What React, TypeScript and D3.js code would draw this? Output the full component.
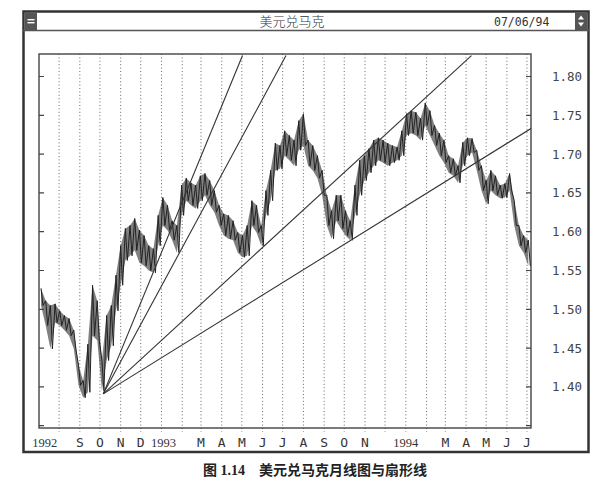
import React, { useEffect, useRef } from 'react'
import * as d3 from 'd3'

// weekly high / low, first week starts 1992-07-05
const weekHigh = [
    1.527, 1.511, 1.505, 1.507, 1.498, 1.492, 1.488, 1.473, 1.428, 1.408,
    1.455, 1.531, 1.511, 1.434, 1.492, 1.505, 1.544, 1.582, 1.604, 1.608,
    1.617, 1.602, 1.595, 1.582, 1.578, 1.621, 1.644, 1.634, 1.614, 1.608,
    1.66, 1.669, 1.663, 1.66, 1.672, 1.675, 1.666, 1.653, 1.634, 1.623,
    1.621, 1.614, 1.599, 1.595, 1.608, 1.64, 1.634, 1.608, 1.653, 1.679,
    1.714, 1.711, 1.73, 1.724, 1.718, 1.743, 1.752, 1.718, 1.711, 1.698,
    1.679, 1.647, 1.627, 1.647, 1.647, 1.627, 1.614, 1.66, 1.692, 1.698,
    1.707, 1.718, 1.721, 1.718, 1.714, 1.711, 1.709, 1.73, 1.752, 1.756,
    1.754, 1.746, 1.766, 1.756, 1.737, 1.727, 1.718, 1.698, 1.694, 1.685,
    1.715, 1.721, 1.72, 1.705, 1.685, 1.666, 1.679, 1.672, 1.66, 1.662,
    1.675, 1.64, 1.608, 1.595, 1.589,
]
const weekLow = [
    1.505, 1.479, 1.449, 1.483, 1.479, 1.473, 1.466, 1.449, 1.402, 1.386,
    1.393, 1.466, 1.46, 1.395, 1.434, 1.453, 1.498, 1.531, 1.563, 1.569,
    1.576, 1.56, 1.556, 1.55, 1.547, 1.582, 1.608, 1.602, 1.589, 1.573,
    1.621, 1.64, 1.634, 1.63, 1.64, 1.647, 1.634, 1.625, 1.608, 1.595,
    1.591, 1.589, 1.573, 1.567, 1.569, 1.608, 1.599, 1.582, 1.621, 1.64,
    1.679, 1.681, 1.698, 1.692, 1.685, 1.705, 1.711, 1.685, 1.679, 1.669,
    1.647, 1.608, 1.591, 1.614, 1.604, 1.595, 1.589, 1.621, 1.647, 1.666,
    1.676, 1.685, 1.692, 1.689, 1.685, 1.689, 1.692, 1.698, 1.724, 1.727,
    1.724, 1.718, 1.737, 1.724, 1.711, 1.698, 1.689, 1.676, 1.672, 1.663,
    1.685, 1.698, 1.702, 1.679, 1.653, 1.636, 1.653, 1.647, 1.643, 1.644,
    1.653, 1.608, 1.582, 1.573, 1.556,
]

const yTicks = [1.35, 1.4, 1.45, 1.5, 1.55, 1.6, 1.65, 1.7, 1.75, 1.8]
const yLabels = ['1.40', '1.45', '1.50', '1.55', '1.60', '1.65', '1.70', '1.75', '1.80']

const monthLines = [
    '1992-08-01', '1992-09-01', '1992-10-01', '1992-11-01', '1992-12-01',
    '1993-01-01', '1993-02-01', '1993-03-01', '1993-04-01', '1993-05-01',
    '1993-06-01', '1993-07-01', '1993-08-01', '1993-09-01', '1993-10-01',
    '1993-11-01', '1993-12-01', '1994-01-01', '1994-02-01', '1994-03-01',
    '1994-04-01', '1994-05-01', '1994-06-01', '1994-07-01',
]
const xLabelDates = [
    '1992-07-01', '1992-09-01', '1992-10-01', '1992-11-01', '1992-12-01',
    '1993-01-01', '1993-03-01', '1993-04-01', '1993-05-01', '1993-06-01',
    '1993-07-01', '1993-08-01', '1993-09-01', '1993-10-01', '1993-11-01',
    '1994-01-01', '1994-03-01', '1994-04-01', '1994-05-01', '1994-06-01',
    '1994-07-01',
]
const xLabelTexts = [
    '1992', 'S', 'O', 'N', 'D', '1993', 'M', 'A', 'M', 'J', 'J', 'A', 'S',
    'O', 'N', '1994', 'M', 'A', 'M', 'J', 'J',
]

// fan lines from the October 1992 low
const fanOriginDate = '1992-10-06'
const fanOriginValue = 1.391
const fanEndDates = ['1993-05-02', '1993-07-06', '1994-04-09', '1994-07-07']
const fanEndValues = [1.827, 1.827, 1.827, 1.733]

function App() {
    const svgRef = useRef<SVGSVGElement | null>(null)

    useEffect(() => {
        if (!svgRef.current) return
        const parse = d3.timeParse('%Y-%m-%d')
        const svg = d3.select(svgRef.current)
        svg.selectAll('*').remove()

        const left = 39
        const right = 531
        const top = 54
        const bottom = 428

        const x = d3
            .scaleTime()
            .domain([new Date(1992, 6, 2), new Date(1994, 6, 7)])
            .range([left, right])
        const y = d3.scaleLinear().domain([1.347, 1.829]).range([bottom, top])

        const ink = '#333'

        // window frame
        svg.append('rect')
            .attr('x', 23.5).attr('y', 11.5)
            .attr('width', 565).attr('height', 440.5)
            .attr('fill', 'white').attr('stroke', ink).attr('stroke-width', 2.5)
        svg.append('line')
            .attr('x1', 23).attr('x2', 589).attr('y1', 30.5).attr('y2', 30.5)
            .attr('stroke', '#555').attr('stroke-width', 1.3)

        // title bar buttons
        svg.append('rect').attr('x', 25).attr('y', 12.5).attr('width', 12).attr('height', 17.5).attr('fill', '#555')
        svg.append('rect').attr('x', 27.5).attr('y', 19).attr('width', 7).attr('height', 1.4).attr('fill', 'white')
        svg.append('rect').attr('x', 27.5).attr('y', 22).attr('width', 7).attr('height', 1.4).attr('fill', 'white')
        svg.append('rect').attr('x', 575).attr('y', 12.5).attr('width', 12).attr('height', 17.5).attr('fill', '#555')
        svg.append('path').attr('d', 'M578,19.5 L581,15.5 L584,19.5 Z M578,22.5 L581,26.5 L584,22.5 Z').attr('fill', 'white')

        svg.append('text')
            .attr('x', 292).attr('y', 26)
            .attr('text-anchor', 'middle')
            .attr('font-family', '"Noto Sans CJK SC"')
            .attr('font-weight', 300)
            .attr('font-size', 13).attr('fill', ink)
            .text('美元兑马克')
        svg.append('text')
            .attr('x', 494).attr('y', 26)
            .attr('font-family', '"DejaVu Sans Mono"')
            .attr('font-size', 11.5).attr('fill', ink)
            .text('07/06/94')

        // monthly dotted grid
        svg.append('g')
            .selectAll('line')
            .data(monthLines.map((d) => parse(d) as Date))
            .join('line')
            .attr('x1', (d) => x(d)).attr('x2', (d) => x(d))
            .attr('y1', top).attr('y2', bottom + 4)
            .attr('stroke', '#666').attr('stroke-width', 1)
            .attr('stroke-dasharray', '1 2.4')

        // plot border
        svg.append('rect')
            .attr('x', left).attr('y', top)
            .attr('width', right - left).attr('height', bottom - top)
            .attr('fill', 'none').attr('stroke', '#444').attr('stroke-width', 1.4)

        // y ticks on both sides
        svg.append('g')
            .selectAll('path')
            .data(yTicks)
            .join('path')
            .attr('d', (d) => `M${left},${y(d)}h5M${right},${y(d)}h-5`)
            .attr('stroke', '#444').attr('stroke-width', 1.2)

        svg.append('g')
            .selectAll('text')
            .data(yLabels)
            .join('text')
            .attr('x', 552).attr('y', (d) => y(+d) + 4.5)
            .attr('font-family', '"DejaVu Sans Mono"')
            .attr('font-size', 12.5).attr('fill', '#444')
            .text((d) => d)

        // x labels
        svg.append('g')
            .selectAll('text')
            .data(xLabelTexts)
            .join('text')
            .attr('x', (_, i) => x(parse(xLabelDates[i]) as Date) + (i === 0 ? -6 : i === 5 ? 2 : 0))
            .attr('y', 446.5)
            .attr('text-anchor', (_, i) => (i === 0 ? 'start' : 'middle'))
            .attr('font-family', (d) => (d.length > 1 ? '"Liberation Serif"' : '"DejaVu Sans Mono"'))
            .attr('font-size', (d) => (d.length > 1 ? 12.5 : 13))
            .attr('fill', '#333')
            .text((d) => d)

        // price series: high-low band with a weekly zigzag through it
        const start = new Date(1992, 6, 5)
        const weeks = weekHigh.map((_, i) => d3.timeDay.offset(start, i * 7))
        const zig: [number, number][] = []
        weeks.forEach((w, i) => {
            zig.push([x(w), y(weekHigh[i])])
            zig.push([x(d3.timeDay.offset(w, 3)), y(weekLow[i])])
        })

        svg.append('path')
            .datum(weeks)
            .attr('d', d3.area<Date>()
                .x((d) => x(d))
                .y0((_, i) => y(weekLow[i]))
                .y1((_, i) => y(weekHigh[i])))
            .attr('fill', '#4a4a4a').attr('opacity', 0.7)

        svg.append('path')
            .attr('d', d3.line()(zig))
            .attr('fill', 'none').attr('stroke', '#222').attr('stroke-width', 1)

        // fan lines
        svg.append('clipPath').attr('id', 'plotClip')
            .append('rect').attr('x', left).attr('y', top)
            .attr('width', right - left).attr('height', bottom - top)
        const ox = x(parse(fanOriginDate) as Date)
        const oy = y(fanOriginValue)
        svg.append('g')
            .attr('clip-path', 'url(#plotClip)')
            .selectAll('line')
            .data(fanEndDates)
            .join('line')
            .attr('x1', ox).attr('y1', oy)
            .attr('x2', (d) => x(parse(d) as Date))
            .attr('y2', (_, i) => y(fanEndValues[i]))
            .attr('stroke', '#333').attr('stroke-width', 1.1)

        // caption
        svg.append('text')
            .attr('x', 315).attr('y', 475)
            .attr('text-anchor', 'middle')
            .attr('font-family', '"Liberation Serif", "Noto Sans CJK SC"')
            .attr('font-weight', 'bold')
            .attr('font-size', 14).attr('fill', '#222')
            .text('图 1.14　美元兑马克月线图与扇形线')
    }, [])

    return (
        <svg
            ref={svgRef}
            width={612}
            height={492}
            style={{ position: 'absolute', left: 0, top: 0, background: 'white' }}
        />
    )
}

export default App
